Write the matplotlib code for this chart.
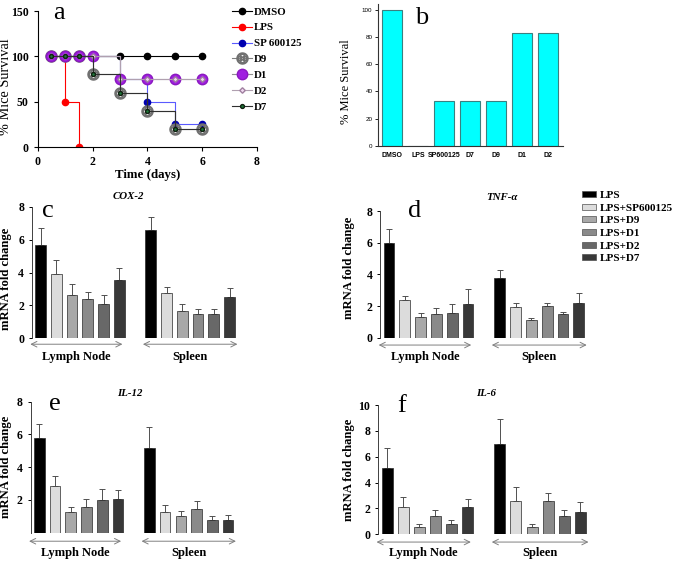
import matplotlib
matplotlib.use("Agg")
import matplotlib.pyplot as plt
from matplotlib.patches import Rectangle
import numpy as np

plt.rcParams['font.family'] = ['Liberation Serif', 'DejaVu Serif']
plt.rcParams['mathtext.fontset'] = 'dejavuserif'

W, H = 685, 564

# ---- panel a: survival curves
days = [0.5, 1, 1.5, 2, 3, 4, 5, 6]
lps_days = [0.5, 1, 1.5]
surv_dmso = [100, 100, 100, 100, 100, 100, 100, 100]
surv_lps = [100, 50, 0]
surv_sp = [100, 100, 100, 100, 75, 50, 25, 25]
surv_d9 = [100, 100, 100, 80, 60, 40, 20, 20]
surv_d1 = [100, 100, 100, 100, 75, 75, 75, 75]
surv_d2 = [100, 100, 100, 100, 75, 75, 75, 75]
surv_d7 = [100, 100, 100, 80, 60, 40, 20, 20]

# ---- panel b: survival bars
b_groups = ['DMSO', 'LPS', 'SP600125', 'D7', 'D9', 'D1', 'D2']
b_values = [100, 0, 33, 33, 33, 83, 83]

# ---- panels c-f: mRNA fold change (Lymph Node then Spleen)
treatments = ['LPS', 'LPS+SP600125', 'LPS+D9', 'LPS+D1', 'LPS+D2', 'LPS+D7']
cox2_ln = [5.7, 3.9, 2.65, 2.4, 2.1, 3.55]
cox2_ln_err = [1.0, 0.85, 0.65, 0.4, 0.55, 0.75]
cox2_sp = [6.6, 2.75, 1.65, 1.5, 1.45, 2.5]
cox2_sp_err = [0.75, 0.35, 0.45, 0.3, 0.35, 0.55]

tnf_ln = [6.0, 2.38, 1.3, 1.5, 1.55, 2.15]
tnf_ln_err = [0.85, 0.25, 0.25, 0.35, 0.6, 0.9]
tnf_sp = [3.8, 1.95, 1.1, 2.0, 1.5, 2.2]
tnf_sp_err = [0.5, 0.22, 0.13, 0.22, 0.15, 0.6]

il12_ln = [5.8, 2.87, 1.25, 1.55, 2.0, 2.05]
il12_ln_err = [0.85, 0.6, 0.3, 0.5, 0.65, 0.55]
il12_sp = [5.15, 1.25, 1.0, 1.45, 0.75, 0.8]
il12_sp_err = [1.3, 0.45, 0.35, 0.5, 0.3, 0.3]

il6_ln = [5.1, 2.1, 0.55, 1.4, 0.8, 2.1]
il6_ln_err = [1.6, 0.8, 0.25, 0.45, 0.3, 0.6]
il6_sp = [7.0, 2.6, 0.6, 2.6, 1.45, 1.7]
il6_sp_err = [1.9, 1.05, 0.2, 0.6, 0.4, 0.8]

bar_colors = ['#000000', '#dcdcdc', '#a8a8a8', '#8a8a8a', '#686868', '#383838']

fig = plt.figure(figsize=(W / 100, H / 100), dpi=100)


def px_axes(x0, y0, x1, y1):
    return fig.add_axes([x0 / W, 1 - y1 / H, (x1 - x0) / W, (y1 - y0) / H])


# ================= panel a
ax = px_axes(37.7, 11, 257, 147)
ax.plot(days, surv_dmso, drawstyle='steps-post', color='black', lw=0.8,
        marker='o', ms=4.5, label='DMSO')
ax.plot(lps_days, surv_lps, drawstyle='steps-post', color='red', lw=0.8,
        marker='o', ms=4.5, label='LPS')
ax.plot(days, surv_sp, drawstyle='steps-post', color='#5a5aff', lw=0.8,
        marker='o', ms=4.5, mfc='#0000b0', mec='#0000b0', label='SP 600125')
ax.plot(days, surv_d9, drawstyle='steps-post', color='#808080', lw=0.8,
        marker=r'$\otimes$', ms=8, mfc='#d0d0d0', mec='#707070', label='D9')
ax.plot(days, surv_d1, drawstyle='steps-post', color='#909090', lw=0.8,
        marker='o', ms=7.5, mfc='#a020e0', mec='#8a18c0', label='D1')
ax.plot(days, surv_d2, drawstyle='steps-post', color='#b0a0b0', lw=0.8,
        marker='D', ms=2.8, mfc='#f0d8f0', mec='#a080a0', label='D2')
ax.plot(days, surv_d7, drawstyle='steps-post', color='#303030', lw=0.8,
        marker='o', ms=2.8, mfc='#1e7a3a', mec='#102010', label='D7')
ax.set_xlim(0, 8)
ax.set_ylim(0, 150)
ax.set_xticks([0, 2, 4, 6, 8])
ax.set_yticks([0, 50, 100, 150])
for s in ['top', 'right']:
    ax.spines[s].set_visible(False)
ax.tick_params(labelsize=8.5, length=3)
for t in ax.get_xticklabels() + ax.get_yticklabels():
    t.set_fontweight('bold')
ax.set_xlabel('Time (days)', fontsize=9.3, fontweight='bold', labelpad=1)
ax.set_ylabel('% Mice Survival', fontsize=10.3)
ax.yaxis.set_label_coords(-0.118, 0.44)
fig.text(59 / W, 1 - 13 / H, 'a', fontsize=19, ha='center', va='center')
fig.legend(*ax.get_legend_handles_labels(), loc='upper left',
           bbox_to_anchor=(232 / W, 1 - 7 / H), frameon=False,
           prop={'weight': 'bold', 'size': 7.8}, handlelength=1.8,
           handletextpad=0.25, labelspacing=0.58, borderpad=0, borderaxespad=0)

# ================= panel b
ax = px_axes(378, 3.5, 563, 146)
xb = np.arange(len(b_groups))
ax.bar(xb, b_values, width=0.8, color='#00ffff', edgecolor='#3a8080', lw=0.8)
ax.set_xlim(-0.54, 6.58)
ax.set_ylim(0, 104.5)
ax.set_yticks([0, 20, 40, 60, 80, 100])
ax.set_xticks(xb)
ax.set_xticklabels(b_groups, family=['Liberation Sans', 'DejaVu Sans'],
                   fontweight='bold', fontsize=5)
for t in ax.get_yticklabels():
    t.set_family(['Liberation Sans', 'DejaVu Sans'])
    t.set_fontsize(4.5)
ax.tick_params(axis='x', length=0, pad=4)
ax.tick_params(axis='y', length=2, width=0.6, pad=2)
for s in ['top', 'right']:
    ax.spines[s].set_visible(False)
for s in ['left', 'bottom']:
    ax.spines[s].set_color('#333333')
ax.set_ylabel('% Mice Survival', fontsize=9)
ax.yaxis.set_label_coords(-0.14, 0.45)
fig.text(422 / W, 1 - 18 / H, 'b', fontsize=19, ha='center', va='center')


# ================= panels c-f
def bar_panel(box, ln, ln_err, sp, sp_err, ymax, yticks, title, title_xy,
              letter, letter_xy, arrow_y, label_y, ylab_xy):
    ax = px_axes(*box)
    pos_ln = np.arange(6)
    pos_sp = np.arange(6) + 7
    for pos, v, e in [(pos_ln, ln, ln_err), (pos_sp, sp, sp_err)]:
        ax.bar(pos, v, width=0.68, color=bar_colors, edgecolor='#2a2a2a',
               lw=0.5, zorder=2)
        ax.errorbar(pos, v, yerr=[np.zeros(6), e], fmt='none',
                    ecolor='#505050', elinewidth=0.7, capsize=2.2,
                    capthick=0.7, zorder=1)
        ax.hlines(0, pos[0] - 0.5, pos[-1] + 0.5, color='#707070', lw=0.6)
    ax.set_xlim(-0.56, 12.6)
    ax.set_ylim(0, ymax)
    ax.set_yticks(yticks)
    ax.set_xticks([])
    for s in ['top', 'right', 'bottom']:
        ax.spines[s].set_visible(False)
    ax.spines['left'].set_color('#404040')
    ax.spines['left'].set_linewidth(0.7)
    ax.tick_params(axis='y', labelsize=8.5, length=2.5, width=0.7, pad=3)
    for t in ax.get_yticklabels():
        t.set_fontweight('bold')
    ax.set_ylabel('mRNA fold change', fontsize=9.1, fontweight='bold')
    ax.yaxis.set_label_coords(*ylab_xy)
    tr = ax.get_xaxis_transform()
    for x0, x1, name in [(-0.65, 5.2, 'Lymph Node'), (6.5, 12.5, 'Spleen')]:
        ax.annotate('', xy=(x0, arrow_y), xytext=(x1, arrow_y), xycoords=tr,
                    textcoords=tr, annotation_clip=False,
                    arrowprops=dict(arrowstyle='<->', color='#808080', lw=0.7,
                                    shrinkA=0, shrinkB=0))
        ax.text((x0 + x1) / 2, label_y, name, transform=tr, ha='center',
                va='center', fontsize=9, fontweight='bold')
    fig.text(title_xy[0] / W, 1 - title_xy[1] / H, title, fontsize=7.8,
             fontweight='bold', style='italic', ha='center', va='center')
    fig.text(letter_xy[0] / W, 1 - letter_xy[1] / H, letter, fontsize=19,
             ha='center', va='center')
    return ax


bar_panel((31.7, 206.7, 239, 338.3), cox2_ln, cox2_ln_err, cox2_sp,
          cox2_sp_err, 8, [0, 2, 4, 6, 8], 'COX-2', (128, 197),
          'c', (48, 211), -0.045, -0.14, (-0.095, 0.45))
bar_panel((380.1, 211, 588.3, 337.7), tnf_ln, tnf_ln_err, tnf_sp,
          tnf_sp_err, 8, [0, 2, 4, 6, 8], 'TNF-α', (502, 198),
          'd', (415, 211), -0.058, -0.15, (-0.12, 0.55))
bar_panel((30.5, 401.7, 237.5, 532.7), il12_ln, il12_ln_err, il12_sp,
          il12_sp_err, 8, [2, 4, 6, 8], 'IL-12', (130, 394),
          'e', (55, 404), -0.065, -0.155, (-0.09, 0.5))
bar_panel((378, 405, 590.1, 534.3), il6_ln, il6_ln_err, il6_sp,
          il6_sp_err, 10, [0, 2, 4, 6, 8, 10], 'IL-6', (486, 394),
          'f', (402, 406), -0.06, -0.145, (-0.108, 0.5))

handles = [Rectangle((0, 0), 1, 1, facecolor=c, edgecolor='#505050', lw=0.5)
           for c in bar_colors]
fig.legend(handles, treatments, loc='upper left',
           bbox_to_anchor=(582 / W, 1 - 191 / H), frameon=False,
           prop={'weight': 'bold', 'size': 8}, handlelength=1.25,
           handleheight=0.45, handletextpad=0.35, labelspacing=0.33,
           borderpad=0, borderaxespad=0)

fig.savefig('out.png', dpi=100)
